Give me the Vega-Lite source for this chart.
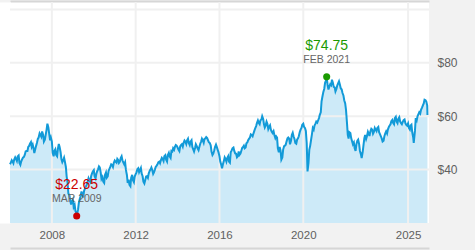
{
  "$schema": "https://vega.github.io/schema/vega-lite/v6.json",
  "width": 419,
  "height": 221,
  "autosize": {"type": "none"},
  "padding": {"left": 10, "top": 2, "right": 46, "bottom": 27},
  "background": "#f2f2f2",
  "config": {"view": {"fill": "white", "stroke": null}, "font": "Liberation Sans"},
  "datasets": {
    "series": [
      {"d":"2006-01-15","p":42.6},{"d":"2006-02-15","p":43.0},{"d":"2006-03-15","p":43.8},{"d":"2006-04-15","p":44.0},{"d":"2006-05-15","p":44.9},{"d":"2006-06-15","p":42.5},{"d":"2006-07-15","p":43.0},{"d":"2006-08-15","p":44.5},{"d":"2006-09-15","p":45.5},{"d":"2006-10-15","p":47.0},{"d":"2006-11-15","p":48.5},{"d":"2006-12-15","p":49.7},
      {"d":"2007-01-15","p":48.5},{"d":"2007-02-15","p":48.0},{"d":"2007-03-15","p":47.4},{"d":"2007-04-15","p":50.0},{"d":"2007-05-15","p":52.0},{"d":"2007-06-15","p":53.0},{"d":"2007-07-15","p":54.3},{"d":"2007-08-15","p":50.5},{"d":"2007-09-15","p":53.0},{"d":"2007-10-15","p":57.2},{"d":"2007-11-15","p":53.5},{"d":"2007-12-15","p":52.0},
      {"d":"2008-01-15","p":46.3},{"d":"2008-02-15","p":47.0},{"d":"2008-03-15","p":45.5},{"d":"2008-04-15","p":47.8},{"d":"2008-05-15","p":48.5},{"d":"2008-06-15","p":44.0},{"d":"2008-07-15","p":43.5},{"d":"2008-08-15","p":43.0},{"d":"2008-09-15","p":37.4},{"d":"2008-10-15","p":31.0},{"d":"2008-11-15","p":28.6},{"d":"2008-12-15","p":28.0},
      {"d":"2009-01-15","p":26.0},{"d":"2009-02-15","p":24.5},{"d":"2009-03-09","p":22.65},{"d":"2009-04-15","p":27.5},{"d":"2009-05-15","p":30.0},{"d":"2009-06-15","p":30.5},{"d":"2009-07-15","p":32.0},{"d":"2009-08-15","p":33.6},{"d":"2009-09-15","p":35.5},{"d":"2009-10-15","p":36.0},{"d":"2009-11-15","p":37.5},{"d":"2009-12-15","p":39.3},
      {"d":"2010-01-15","p":37.5},{"d":"2010-02-15","p":38.5},{"d":"2010-03-15","p":40.0},{"d":"2010-04-15","p":40.8},{"d":"2010-05-15","p":36.5},{"d":"2010-06-15","p":35.5},{"d":"2010-07-15","p":38.0},{"d":"2010-08-15","p":37.0},{"d":"2010-09-15","p":39.5},{"d":"2010-10-15","p":41.0},{"d":"2010-11-15","p":41.8},{"d":"2010-12-15","p":42.5},
      {"d":"2011-01-15","p":43.0},{"d":"2011-02-15","p":44.0},{"d":"2011-03-15","p":42.5},{"d":"2011-04-15","p":44.3},{"d":"2011-05-15","p":43.5},{"d":"2011-06-15","p":42.0},{"d":"2011-07-15","p":39.9},{"d":"2011-08-15","p":35.0},{"d":"2011-09-15","p":34.3},{"d":"2011-10-15","p":37.0},{"d":"2011-11-15","p":36.0},{"d":"2011-12-15","p":37.4},
      {"d":"2012-01-15","p":39.0},{"d":"2012-02-15","p":40.5},{"d":"2012-03-15","p":39.7},{"d":"2012-04-15","p":38.5},{"d":"2012-05-15","p":35.5},{"d":"2012-06-15","p":36.0},{"d":"2012-07-15","p":37.5},{"d":"2012-08-15","p":38.5},{"d":"2012-09-15","p":40.0},{"d":"2012-10-15","p":39.9},{"d":"2012-11-15","p":39.0},{"d":"2012-12-15","p":41.0},
      {"d":"2013-01-15","p":42.0},{"d":"2013-02-15","p":43.0},{"d":"2013-03-15","p":43.5},{"d":"2013-04-15","p":44.0},{"d":"2013-05-15","p":45.0},{"d":"2013-06-15","p":43.7},{"d":"2013-07-15","p":45.5},{"d":"2013-08-15","p":45.0},{"d":"2013-09-15","p":47.0},{"d":"2013-10-15","p":48.0},{"d":"2013-11-15","p":48.5},{"d":"2013-12-15","p":49.0},
      {"d":"2014-01-15","p":47.5},{"d":"2014-02-15","p":48.7},{"d":"2014-03-15","p":49.5},{"d":"2014-04-15","p":50.0},{"d":"2014-05-15","p":50.5},{"d":"2014-06-15","p":51.0},{"d":"2014-07-15","p":50.0},{"d":"2014-08-15","p":50.5},{"d":"2014-09-15","p":48.5},{"d":"2014-10-15","p":46.8},{"d":"2014-11-15","p":49.5},{"d":"2014-12-15","p":48.0},
      {"d":"2015-01-15","p":48.5},{"d":"2015-02-15","p":50.5},{"d":"2015-03-15","p":51.0},{"d":"2015-04-15","p":51.5},{"d":"2015-05-15","p":52.2},{"d":"2015-06-15","p":51.0},{"d":"2015-07-15","p":50.0},{"d":"2015-08-15","p":46.8},{"d":"2015-09-15","p":46.0},{"d":"2015-10-15","p":48.5},{"d":"2015-11-15","p":48.5},{"d":"2015-12-15","p":46.5},
      {"d":"2016-01-15","p":43.0},{"d":"2016-02-15","p":40.5},{"d":"2016-03-15","p":43.0},{"d":"2016-04-15","p":44.0},{"d":"2016-05-15","p":44.3},{"d":"2016-06-15","p":43.0},{"d":"2016-07-15","p":46.5},{"d":"2016-08-15","p":48.0},{"d":"2016-09-15","p":47.0},{"d":"2016-10-15","p":46.0},{"d":"2016-11-15","p":45.0},{"d":"2016-12-15","p":45.5},
      {"d":"2017-01-15","p":47.0},{"d":"2017-02-15","p":48.5},{"d":"2017-03-15","p":48.0},{"d":"2017-04-15","p":49.9},{"d":"2017-05-15","p":51.0},{"d":"2017-06-15","p":52.0},{"d":"2017-07-15","p":53.0},{"d":"2017-08-15","p":53.5},{"d":"2017-09-15","p":55.5},{"d":"2017-10-15","p":57.4},{"d":"2017-11-15","p":57.5},{"d":"2017-12-15","p":58.5},
      {"d":"2018-01-15","p":60.0},{"d":"2018-02-15","p":57.0},{"d":"2018-03-15","p":56.5},{"d":"2018-04-15","p":57.2},{"d":"2018-05-15","p":56.0},{"d":"2018-06-15","p":55.0},{"d":"2018-07-15","p":53.7},{"d":"2018-08-15","p":53.0},{"d":"2018-09-15","p":52.5},{"d":"2018-10-15","p":48.0},{"d":"2018-11-15","p":48.5},{"d":"2018-12-15","p":43.7},
      {"d":"2019-01-15","p":47.5},{"d":"2019-02-15","p":49.0},{"d":"2019-03-15","p":50.5},{"d":"2019-04-15","p":52.0},{"d":"2019-05-15","p":49.5},{"d":"2019-06-15","p":53.0},{"d":"2019-07-15","p":52.5},{"d":"2019-08-15","p":50.0},{"d":"2019-09-15","p":51.2},{"d":"2019-10-15","p":52.5},{"d":"2019-11-15","p":55.0},{"d":"2019-12-15","p":56.8},
      {"d":"2020-01-15","p":56.0},{"d":"2020-02-15","p":54.5},{"d":"2020-03-15","p":39.3},{"d":"2020-04-15","p":47.4},{"d":"2020-05-15","p":51.0},{"d":"2020-06-15","p":55.6},{"d":"2020-07-15","p":56.5},{"d":"2020-08-15","p":58.0},{"d":"2020-09-15","p":58.4},{"d":"2020-10-15","p":60.5},{"d":"2020-11-15","p":65.6},{"d":"2020-12-15","p":69.0},
      {"d":"2021-01-15","p":72.5},{"d":"2021-02-12","p":74.75},{"d":"2021-03-15","p":70.0},{"d":"2021-04-15","p":72.0},{"d":"2021-05-15","p":73.7},{"d":"2021-06-15","p":71.0},{"d":"2021-07-15","p":69.3},{"d":"2021-08-15","p":71.5},{"d":"2021-09-15","p":73.1},{"d":"2021-10-15","p":70.5},{"d":"2021-11-15","p":68.7},{"d":"2021-12-15","p":66.0},
      {"d":"2022-01-15","p":62.4},{"d":"2022-02-15","p":53.0},{"d":"2022-03-15","p":54.0},{"d":"2022-04-15","p":51.8},{"d":"2022-05-15","p":49.5},{"d":"2022-06-15","p":48.0},{"d":"2022-07-15","p":49.5},{"d":"2022-08-15","p":51.2},{"d":"2022-09-15","p":47.0},{"d":"2022-10-15","p":44.3},{"d":"2022-11-15","p":49.0},{"d":"2022-12-15","p":53.0},
      {"d":"2023-01-15","p":52.5},{"d":"2023-02-15","p":53.5},{"d":"2023-03-15","p":54.3},{"d":"2023-04-15","p":55.0},{"d":"2023-05-15","p":54.0},{"d":"2023-06-15","p":55.0},{"d":"2023-07-15","p":55.6},{"d":"2023-08-15","p":54.0},{"d":"2023-09-15","p":52.5},{"d":"2023-10-15","p":50.5},{"d":"2023-11-15","p":52.5},{"d":"2023-12-15","p":54.3},
      {"d":"2024-01-15","p":55.0},{"d":"2024-02-15","p":56.5},{"d":"2024-03-15","p":58.1},{"d":"2024-04-15","p":57.5},{"d":"2024-05-15","p":59.3},{"d":"2024-06-15","p":58.0},{"d":"2024-07-15","p":59.0},{"d":"2024-08-15","p":58.1},{"d":"2024-09-15","p":57.0},{"d":"2024-10-15","p":58.5},{"d":"2024-11-15","p":57.4},{"d":"2024-12-15","p":56.5},
      {"d":"2025-01-15","p":55.6},{"d":"2025-02-15","p":56.5},{"d":"2025-03-15","p":54.0},{"d":"2025-04-10","p":50.0},{"d":"2025-05-15","p":59.3},{"d":"2025-06-15","p":60.0},{"d":"2025-07-15","p":61.5},{"d":"2025-08-15","p":62.4},{"d":"2025-09-15","p":64.0},{"d":"2025-10-15","p":66.2},{"d":"2025-11-15","p":65.5},{"d":"2025-12-05","p":60.5},
      {"d":"2006-01-01","p":42.0},{"d":"2006-02-01","p":43.5},{"d":"2006-03-01","p":42.4},{"d":"2006-04-01","p":44.6},{"d":"2006-05-01","p":43.2},{"d":"2006-06-01","p":45.3},{"d":"2006-07-01","p":41.8},{"d":"2006-08-01","p":43.9},{"d":"2006-09-01","p":44.8},{"d":"2006-10-01","p":46.8},{"d":"2006-11-01","p":47.0},{"d":"2006-12-01","p":48.9},
      {"d":"2007-01-01","p":50.3},{"d":"2007-02-01","p":49.4},{"d":"2007-03-01","p":46.2},{"d":"2007-04-01","p":48.9},{"d":"2007-05-01","p":51.5},{"d":"2007-06-01","p":53.6},{"d":"2007-07-01","p":52.3},{"d":"2007-08-01","p":53.1},{"d":"2007-09-01","p":51.2},{"d":"2007-10-01","p":55.0},{"d":"2007-11-01","p":55.8},{"d":"2007-12-01","p":51.0},
      {"d":"2008-01-01","p":50.5},{"d":"2008-02-01","p":45.0},{"d":"2008-03-01","p":47.6},{"d":"2008-04-01","p":45.0},{"d":"2008-05-01","p":49.6},{"d":"2008-06-01","p":46.5},{"d":"2008-07-01","p":42.8},{"d":"2008-08-01","p":44.5},{"d":"2008-09-01","p":41.0},{"d":"2008-10-01","p":35.0},{"d":"2008-11-01","p":30.5},{"d":"2008-12-01","p":26.9},
      {"d":"2009-01-01","p":28.8},{"d":"2009-02-01","p":26.8},{"d":"2009-03-01","p":23.8},{"d":"2009-04-01","p":25.0},{"d":"2009-05-01","p":29.0},{"d":"2009-06-01","p":31.8},{"d":"2009-07-01","p":29.6},{"d":"2009-08-01","p":33.0},{"d":"2009-09-01","p":34.5},{"d":"2009-10-01","p":36.8},{"d":"2009-11-01","p":35.4},{"d":"2009-12-01","p":38.6},
      {"d":"2010-01-01","p":39.8},{"d":"2010-02-01","p":36.7},{"d":"2010-03-01","p":39.4},{"d":"2010-04-01","p":41.2},{"d":"2010-05-01","p":39.0},{"d":"2010-06-01","p":37.2},{"d":"2010-07-01","p":35.0},{"d":"2010-08-01","p":38.9},{"d":"2010-09-01","p":37.5},{"d":"2010-10-01","p":40.3},{"d":"2010-11-01","p":42.0},{"d":"2010-12-01","p":41.0},
      {"d":"2011-01-01","p":43.4},{"d":"2011-02-01","p":42.6},{"d":"2011-03-01","p":43.6},{"d":"2011-04-01","p":43.0},{"d":"2011-05-01","p":45.0},{"d":"2011-06-01","p":42.6},{"d":"2011-07-01","p":42.8},{"d":"2011-08-01","p":38.0},{"d":"2011-09-01","p":36.2},{"d":"2011-10-01","p":33.8},{"d":"2011-11-01","p":38.0},{"d":"2011-12-01","p":35.3},
      {"d":"2012-01-01","p":38.3},{"d":"2012-02-01","p":40.2},{"d":"2012-03-01","p":39.0},{"d":"2012-04-01","p":40.6},{"d":"2012-05-01","p":37.5},{"d":"2012-06-01","p":34.8},{"d":"2012-07-01","p":37.4},{"d":"2012-08-01","p":36.9},{"d":"2012-09-01","p":39.5},{"d":"2012-10-01","p":40.8},{"d":"2012-11-01","p":38.4},{"d":"2012-12-01","p":40.0},
      {"d":"2013-01-01","p":41.5},{"d":"2013-02-01","p":42.8},{"d":"2013-03-01","p":42.4},{"d":"2013-04-01","p":44.4},{"d":"2013-05-01","p":43.2},{"d":"2013-06-01","p":45.4},{"d":"2013-07-01","p":43.0},{"d":"2013-08-01","p":46.3},{"d":"2013-09-01","p":44.4},{"d":"2013-10-01","p":46.8},{"d":"2013-11-01","p":47.4},{"d":"2013-12-01","p":49.2},
      {"d":"2014-01-01","p":48.3},{"d":"2014-02-01","p":46.9},{"d":"2014-03-01","p":49.2},{"d":"2014-04-01","p":48.6},{"d":"2014-05-01","p":50.9},{"d":"2014-06-01","p":49.6},{"d":"2014-07-01","p":51.6},{"d":"2014-08-01","p":49.2},{"d":"2014-09-01","p":51.0},{"d":"2014-10-01","p":47.6},{"d":"2014-11-01","p":48.1},{"d":"2014-12-01","p":48.8},
      {"d":"2015-01-01","p":47.3},{"d":"2015-02-01","p":49.8},{"d":"2015-03-01","p":51.6},{"d":"2015-04-01","p":50.0},{"d":"2015-05-01","p":51.7},{"d":"2015-06-01","p":51.8},{"d":"2015-07-01","p":50.2},{"d":"2015-08-01","p":49.1},{"d":"2015-09-01","p":45.5},{"d":"2015-10-01","p":47.2},{"d":"2015-11-01","p":49.4},{"d":"2015-12-01","p":47.4},
      {"d":"2016-01-01","p":45.0},{"d":"2016-02-01","p":41.8},{"d":"2016-03-01","p":42.0},{"d":"2016-04-01","p":44.6},{"d":"2016-05-01","p":43.0},{"d":"2016-06-01","p":45.0},{"d":"2016-07-01","p":42.6},{"d":"2016-08-01","p":47.2},{"d":"2016-09-01","p":48.3},{"d":"2016-10-01","p":46.1},{"d":"2016-11-01","p":44.6},{"d":"2016-12-01","p":46.8},
      {"d":"2017-01-01","p":46.0},{"d":"2017-02-01","p":48.2},{"d":"2017-03-01","p":49.0},{"d":"2017-04-01","p":48.3},{"d":"2017-05-01","p":50.2},{"d":"2017-06-01","p":51.6},{"d":"2017-07-01","p":53.2},{"d":"2017-08-01","p":52.5},{"d":"2017-09-01","p":54.6},{"d":"2017-10-01","p":56.3},{"d":"2017-11-01","p":58.4},{"d":"2017-12-01","p":57.0},
      {"d":"2018-01-01","p":58.8},{"d":"2018-02-01","p":59.0},{"d":"2018-03-01","p":55.8},{"d":"2018-04-01","p":58.0},{"d":"2018-05-01","p":55.2},{"d":"2018-06-01","p":56.6},{"d":"2018-07-01","p":54.2},{"d":"2018-08-01","p":54.4},{"d":"2018-09-01","p":51.8},{"d":"2018-10-01","p":52.0},{"d":"2018-11-01","p":46.5},{"d":"2018-12-01","p":47.2},
      {"d":"2019-01-01","p":44.5},{"d":"2019-02-01","p":48.8},{"d":"2019-03-01","p":49.3},{"d":"2019-04-01","p":51.7},{"d":"2019-05-01","p":51.6},{"d":"2019-06-01","p":50.8},{"d":"2019-07-01","p":53.8},{"d":"2019-08-01","p":51.5},{"d":"2019-09-01","p":49.7},{"d":"2019-10-01","p":51.7},{"d":"2019-11-01","p":54.1},{"d":"2019-12-01","p":55.6},
      {"d":"2020-01-01","p":57.2},{"d":"2020-02-01","p":55.5},{"d":"2020-03-01","p":50.0},{"d":"2020-04-01","p":42.5},{"d":"2020-05-01","p":49.0},{"d":"2020-06-01","p":53.4},{"d":"2020-07-01","p":55.0},{"d":"2020-08-01","p":57.2},{"d":"2020-09-01","p":57.6},{"d":"2020-10-01","p":59.3},{"d":"2020-11-01","p":61.5},{"d":"2020-12-01","p":67.5},
      {"d":"2021-01-01","p":70.3},{"d":"2021-02-01","p":73.4},{"d":"2021-03-01","p":71.6},{"d":"2021-04-01","p":71.2},{"d":"2021-05-01","p":71.6},{"d":"2021-06-01","p":72.5},{"d":"2021-07-01","p":70.8},{"d":"2021-08-01","p":70.2},{"d":"2021-09-01","p":72.4},{"d":"2021-10-01","p":71.8},{"d":"2021-11-01","p":70.0},{"d":"2021-12-01","p":67.8},
      {"d":"2022-01-01","p":64.8},{"d":"2022-02-01","p":57.5},{"d":"2022-03-01","p":51.6},{"d":"2022-04-01","p":53.7},{"d":"2022-05-01","p":50.6},{"d":"2022-06-01","p":50.2},{"d":"2022-07-01","p":47.0},{"d":"2022-08-01","p":50.8},{"d":"2022-09-01","p":49.5},{"d":"2022-10-01","p":45.8},{"d":"2022-11-01","p":46.5},{"d":"2022-12-01","p":51.8},
      {"d":"2023-01-01","p":51.5},{"d":"2023-02-01","p":54.2},{"d":"2023-03-01","p":52.6},{"d":"2023-04-01","p":55.3},{"d":"2023-05-01","p":53.4},{"d":"2023-06-01","p":55.6},{"d":"2023-07-01","p":54.4},{"d":"2023-08-01","p":56.0},{"d":"2023-09-01","p":53.2},{"d":"2023-10-01","p":51.6},{"d":"2023-11-01","p":50.8},{"d":"2023-12-01","p":53.6},
      {"d":"2024-01-01","p":53.5},{"d":"2024-02-01","p":56.0},{"d":"2024-03-01","p":57.0},{"d":"2024-04-01","p":58.6},{"d":"2024-05-01","p":57.0},{"d":"2024-06-01","p":59.8},{"d":"2024-07-01","p":57.4},{"d":"2024-08-01","p":59.6},{"d":"2024-09-01","p":57.4},{"d":"2024-10-01","p":57.9},{"d":"2024-11-01","p":58.8},{"d":"2024-12-01","p":56.8},
      {"d":"2025-01-01","p":57.3},{"d":"2025-02-01","p":55.0},{"d":"2025-03-01","p":56.8},{"d":"2025-04-01","p":52.0},{"d":"2025-05-01","p":54.5},{"d":"2025-06-01","p":58.5},{"d":"2025-07-01","p":60.8},{"d":"2025-08-01","p":61.0},{"d":"2025-09-01","p":63.2},{"d":"2025-10-01","p":64.8},{"d":"2025-11-01","p":66.0},{"d":"2025-12-01","p":64.0}
    ],
    "extremes": [
      {"d":"2009-03-09","p":22.65,"label":"$22.65","sub":"MAR 2009","kind":"low"},
      {"d":"2021-02-12","p":74.75,"label":"$74.75","sub":"FEB 2021","kind":"high"}
    ],
    "vgrid": [{"d":"2008-01-01"},{"d":"2012-01-01"},{"d":"2016-01-01"},{"d":"2020-01-01"},{"d":"2025-01-01"}],
    "hgrid": [{"p":40},{"p":60},{"p":80},{"p":100}]
  },
  "resolve": {"axis": {"x": "independent", "y": "independent"}},
  "layer": [
    {
      "data": {"name": "series"},
      "mark": {"type": "area", "color": "#cdeaf8"},
      "encoding": {
        "x": {"field": "d", "type": "temporal",
              "scale": {"domain": [{"year": 2006, "month": 1, "date": 1}, {"year": 2026, "month": 1, "date": 1}]},
              "axis": {"orient": "bottom", "title": null, "values": [{"year":2008,"month":1,"date":1},{"year":2012,"month":1,"date":1},{"year":2016,"month":1,"date":1},{"year":2020,"month":1,"date":1},{"year":2025,"month":1,"date":1}],
                       "format": "%Y", "grid": false, "ticks": false, "domain": true, "domainColor": "#d6d6d6", "domainWidth": 2,
                       "offset": 25, "labelPadding": -19, "labelFontSize": 11.5, "labelColor": "#606060", "labelFont": "Liberation Sans"}},
        "y": {"field": "p", "type": "quantitative",
              "scale": {"domain": [20, 102.8], "zero": false, "nice": false},
              "axis": {"orient": "right", "title": null, "values": [40, 60, 80], "format": "$.0f", "grid": false, "ticks": false, "domain": false,
                       "labelPadding": 8, "labelFontSize": 12, "labelColor": "#606060", "labelFont": "Liberation Sans"}},
        "y2": {"datum": 20}
      }
    },
    {
      "data": {"name": "vgrid"},
      "mark": {"type": "rule", "color": "#f0f0f0", "strokeWidth": 2},
      "encoding": {"x": {"field": "d", "type": "temporal", "axis": null}}
    },
    {
      "data": {"name": "hgrid"},
      "mark": {"type": "rule", "color": "#f0f0f0", "strokeWidth": 2},
      "encoding": {"y": {"field": "p", "type": "quantitative",
                         "axis": {"orient": "left", "title": null, "labels": false, "ticks": false, "grid": false, "domain": true, "domainColor": "#ffffff", "domainWidth": 20, "offset": 10}}}
    },
    {
      "data": {"name": "series"},
      "mark": {"type": "line", "color": "#129ad8", "strokeWidth": 2},
      "encoding": {
        "x": {"field": "d", "type": "temporal",
              "axis": {"orient": "top", "title": null, "labels": false, "ticks": false, "grid": false, "domain": true, "domainColor": "#d6d6d6", "domainWidth": 2, "offset": 1}},
        "y": {"field": "p", "type": "quantitative", "axis": null}
      }
    },
    {
      "data": {"name": "extremes"},
      "mark": {"type": "point", "filled": true, "opacity": 1, "size": 50},
      "encoding": {
        "x": {"field": "d", "type": "temporal", "axis": null},
        "y": {"field": "p", "type": "quantitative", "axis": null},
        "color": {"field": "kind", "type": "nominal", "scale": {"domain": ["low", "high"], "range": ["#cc0000", "#1a9a00"]}, "legend": null}
      }
    },
    {
      "data": {"name": "extremes"},
      "mark": {"type": "text", "dy": -31, "fontSize": 14, "font": "Liberation Sans"},
      "encoding": {
        "x": {"field": "d", "type": "temporal", "axis": null},
        "y": {"field": "p", "type": "quantitative", "axis": null},
        "text": {"field": "label"},
        "color": {"field": "kind", "type": "nominal", "scale": {"domain": ["low", "high"], "range": ["#cc0000", "#1a9a00"]}, "legend": null}
      }
    },
    {
      "data": {"name": "extremes"},
      "mark": {"type": "text", "dy": -16.5, "fontSize": 10.5, "color": "#666666", "font": "Liberation Sans"},
      "encoding": {
        "x": {"field": "d", "type": "temporal", "axis": null},
        "y": {"field": "p", "type": "quantitative", "axis": null},
        "text": {"field": "sub"}
      }
    }
  ]
}
